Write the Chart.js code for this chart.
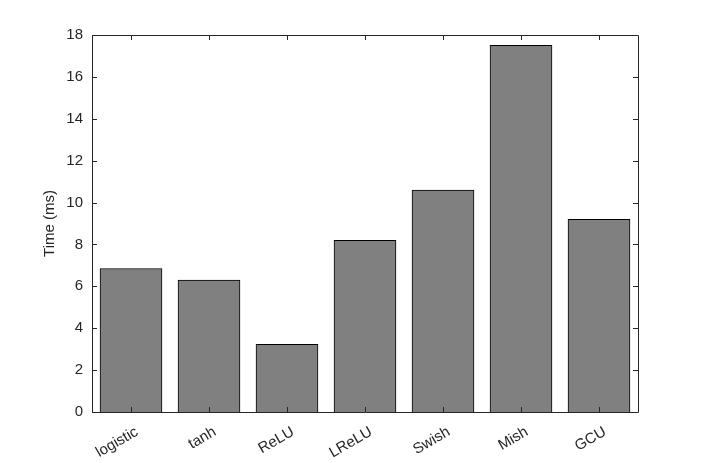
<!DOCTYPE html>
<html>
<head>
<meta charset="utf-8">
<script src="https://cdn.jsdelivr.net/npm/chart.js@4/dist/chart.umd.min.js"></script>
<style>
  body { margin: 0; background: #fff; }
  canvas { display: block; }
</style>
</head>
<body>
<canvas id="time_chart" width="706" height="463"></canvas>
<script>
const activations = ['logistic', 'tanh', 'ReLU', 'LReLU', 'Swish', 'Mish', 'GCU'];
const time_ms = [6.85, 6.3, 3.23, 8.2, 10.59, 17.51, 9.2];
const axis_color = '#262626';
const font_family = '"Liberation Sans", Arial, Helvetica, sans-serif';

// matlab style box with inward ticks on every side
const box_ticks = {
    id: 'box_ticks',
    afterDraw(chart) {
        const ctx = chart.ctx;
        const area = chart.chartArea;
        const x_scale = chart.scales.x;
        const y_scale = chart.scales.y;
        const tick_len = 5;

        ctx.save();
        ctx.strokeStyle = axis_color;
        ctx.lineWidth = 1;
        ctx.beginPath();
        ctx.rect(Math.round(area.left) + 0.5, Math.round(area.top) + 0.5,
                 Math.round(area.right - area.left), Math.round(area.bottom - area.top));

        x_scale.ticks.forEach((_, i) => {
            const px = Math.round(x_scale.getPixelForTick(i)) + 0.5;
            ctx.moveTo(px, area.bottom);
            ctx.lineTo(px, area.bottom - tick_len);
            ctx.moveTo(px, area.top);
            ctx.lineTo(px, area.top + tick_len);
        });

        y_scale.ticks.forEach((t) => {
            const py = Math.round(y_scale.getPixelForValue(t.value)) + 0.5;
            ctx.moveTo(area.left, py);
            ctx.lineTo(area.left + tick_len, py);
            ctx.moveTo(area.right, py);
            ctx.lineTo(area.right - tick_len, py);
        });
        ctx.stroke();
        ctx.restore();
    }
};

new Chart(document.getElementById('time_chart'), {
    type: 'bar',
    data: {
        labels: activations,
        datasets: [{
            data: time_ms,
            backgroundColor: '#808080',
            borderColor: '#000000',
            borderWidth: 1,
            borderSkipped: 'start',
            barThickness: 62
        }]
    },
    options: {
        responsive: false,
        animation: false,
        layout: {
            padding: { left: 37, right: 68, top: 35, bottom: 0 }
        },
        plugins: {
            legend: { display: false },
            tooltip: { enabled: false }
        },
        scales: {
            x: {
                grid: { display: false, drawTicks: false },
                border: { display: false },
                ticks: {
                    color: axis_color,
                    font: { family: font_family, size: 15 },
                    minRotation: 30,
                    maxRotation: 30,
                    padding: 11,
                    labelOffset: 6
                },
                afterFit(scale) { scale.height = 51; }
            },
            y: {
                min: 0,
                max: 18,
                grid: { display: false, drawTicks: false },
                border: { display: false },
                ticks: {
                    stepSize: 2,
                    color: axis_color,
                    font: { family: font_family, size: 15 },
                    padding: 9
                },
                title: {
                    display: true,
                    text: 'Time (ms)',
                    color: axis_color,
                    font: { family: font_family, size: 15 },
                    padding: { top: 4, bottom: 4 }
                },
                afterFit(scale) { scale.width = 55; }
            }
        }
    },
    plugins: [box_ticks]
});
</script>
</body>
</html>
